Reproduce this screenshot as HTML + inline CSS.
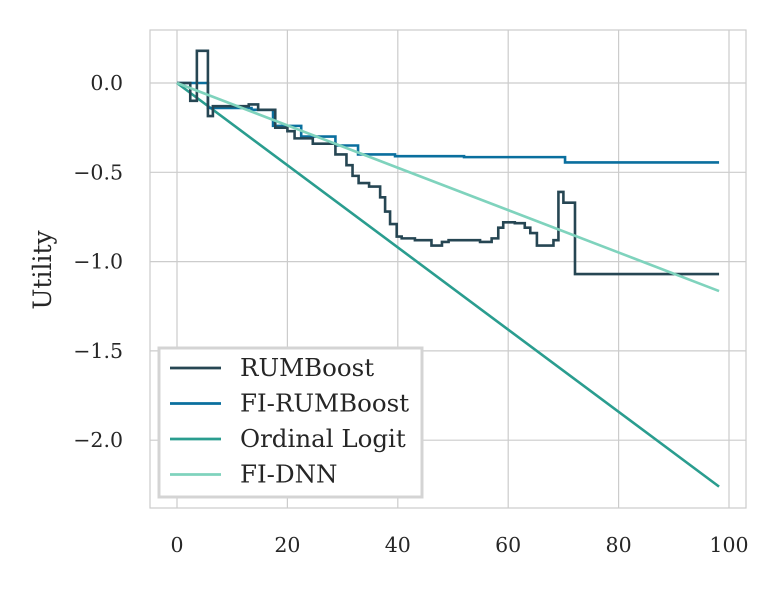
<!DOCTYPE html>
<html><head><meta charset="utf-8"><style>
body{margin:0;background:#fff;}
svg text{font-family:"DejaVu Serif","Liberation Serif",serif;fill:#262626;}
</style></head><body>
<svg id="chart" width="783" height="588" xmlns="http://www.w3.org/2000/svg">
<rect x="0" y="0" width="783" height="588" fill="#fff"/>
<g id="grid"></g>
<rect x="150" y="30" width="596" height="478" fill="none" stroke="#cccccc" stroke-width="1.2"/>
<g id="series"></g>
<g id="ticks"></g>
<text x="51" y="270" font-size="25" text-anchor="middle" transform="rotate(-90 51 270)">Utility</text>
<g id="legend"></g>
</svg>
<script>
const xTicks=[0,20,40,60,80,100];
const yTicks=[0.0,-0.5,-1.0,-1.5,-2.0];
const yTickLabels=["0.0","\u22120.5","\u22121.0","\u22121.5","\u22122.0"];
const rumX=[0,2.4,3.6,5.6,6.5,13,14.7,17.8,20,21.3,24.6,28.7,30.7,31.8,32.9,34.8,36.8,37.7,38.6,39.8,40.7,43.1,46.1,48,49.2,54.9,57,58.2,59.1,61.2,63,64,65.2,68.2,69.1,70,72.1,98.2];
const rumY=[0,-0.1,0.18,-0.185,-0.13,-0.12,-0.15,-0.25,-0.27,-0.31,-0.34,-0.40,-0.46,-0.52,-0.56,-0.58,-0.64,-0.72,-0.79,-0.86,-0.87,-0.88,-0.91,-0.89,-0.88,-0.89,-0.87,-0.81,-0.78,-0.785,-0.81,-0.84,-0.91,-0.88,-0.61,-0.67,-1.07,-1.07];
const fiX=[0,5.6,13.5,17.4,22.5,28.7,32.8,39.5,52,70.3,98.2];
const fiY=[0,-0.14,-0.15,-0.24,-0.30,-0.35,-0.40,-0.41,-0.415,-0.445,-0.445];
const olX=[0,98.2];
const olY=[0,-2.26];
const dnnX=[0,98.2];
const dnnY=[0,-1.165];
const names=["RUMBoost","FI-RUMBoost","Ordinal Logit","FI-DNN"];
const colors=["#264653","#0a6f9e","#2a9d8f","#7fd3bd"];

const NS="http://www.w3.org/2000/svg";
const sx=v=>177+v*5.52;
const sy=v=>83-v*178.6;
function mk(t,a,p){const e=document.createElementNS(NS,t);for(const k in a)e.setAttribute(k,a[k]);p.appendChild(e);return e;}
const grid=document.getElementById('grid'),ticks=document.getElementById('ticks'),ser=document.getElementById('series'),leg=document.getElementById('legend');
xTicks.forEach(v=>{
  const l=mk('line',{x1:sx(v),x2:sx(v),y1:30,y2:508,stroke:'#cccccc','stroke-width':1.2},grid);
  
  
  const t=mk('text',{x:sx(v),y:552,'font-size':20.5,'text-anchor':'middle'},ticks);t.textContent=v;
  
  
});
yTicks.forEach((v,i)=>{
  const l=mk('line',{x1:150,x2:746,y1:sy(v),y2:sy(v),stroke:'#cccccc','stroke-width':1.2},grid);
  
  
  const t=mk('text',{x:123,y:sy(v)+7,'font-size':20.5,'text-anchor':'end'},ticks);t.textContent=yTickLabels[i];
  
  
});
function stepPath(xs,ys){let d='M'+sx(xs[0])+','+sy(ys[0]);for(let i=1;i<xs.length;i++){d+=' L'+sx(xs[i])+','+sy(ys[i-1])+' L'+sx(xs[i])+','+sy(ys[i]);}return d;}
function linePath(xs,ys){return xs.map((x,i)=>(i?'L':'M')+sx(x)+','+sy(ys[i])).join(' ');}
const p3=mk('path',{d:linePath(olX,olY),fill:'none',stroke:colors[2],'stroke-width':2.6},ser);


const p2=mk('path',{d:stepPath(fiX,fiY),fill:'none',stroke:colors[1],'stroke-width':2.6},ser);


const p1=mk('path',{d:stepPath(rumX,rumY),fill:'none',stroke:colors[0],'stroke-width':2.6},ser);


const p4=mk('path',{d:linePath(dnnX,dnnY),fill:'none',stroke:colors[3],'stroke-width':2.6},ser);


const box=mk('rect',{x:159,y:348,width:263,height:149,fill:'#fff',stroke:'#d4d4d4','stroke-width':3},leg);


names.forEach((n,i)=>{
  const y=368+i*35.5;
  const l=mk('line',{x1:170,x2:221,y1:y,y2:y,stroke:colors[i],'stroke-width':2.8},leg);
  
  
  const t=mk('text',{x:240,y:y+8,'font-size':24.5},leg);t.textContent=n;
  
  
});
</script>
</body></html>
